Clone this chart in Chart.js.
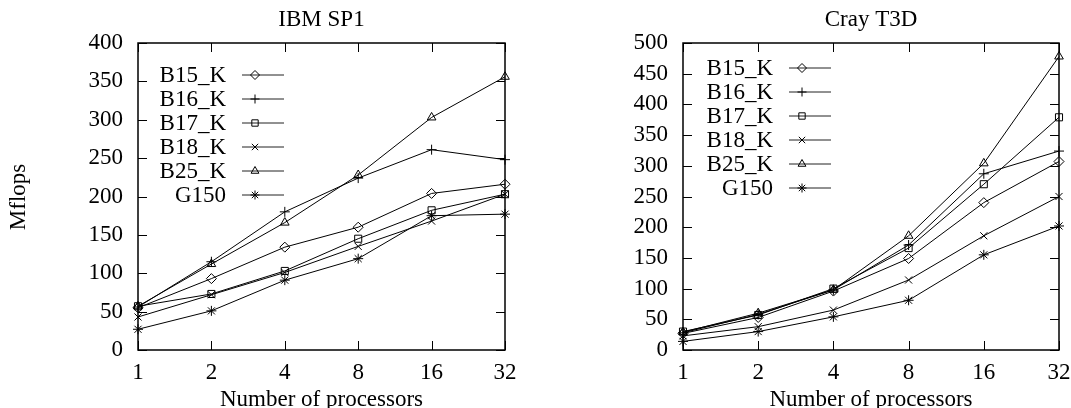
<!DOCTYPE html>
<html>
<head>
<meta charset="utf-8">
<script src="https://cdn.jsdelivr.net/npm/chart.js@4"></script>
<style>
  body { margin: 0; background: #fff; }
  canvas { position: absolute; top: 0; }
  #sp1 { left: 0; }
  #t3d { left: 536px; }
</style>
</head>
<body>
<canvas id="sp1" width="536" height="408"></canvas>
<canvas id="t3d" width="535" height="408"></canvas>
<script>
const procs = ['1', '2', '4', '8', '16', '32'];
const names = ['B15_K', 'B16_K', 'B17_K', 'B18_K', 'B25_K', 'G150'];
const markers = ['rectRot', 'cross', 'rect', 'crossRot', 'triangle', 'star'];

// IBM SP1
const sp1_B15 = [55, 93, 134, 160, 204, 216];
const sp1_B16 = [56, 115, 180, 224, 261, 248];
const sp1_B17 = [57, 73, 103, 145, 182, 203];
const sp1_B18 = [43, 72, 101, 135, 168, 203];
const sp1_B25 = [57, 112, 166, 228, 303, 356];
const sp1_G150 = [27, 51, 91, 119, 175, 177];

// Cray T3D
const t3d_B15 = [27, 53, 96, 149, 240, 307];
const t3d_B16 = [28, 58, 98, 171, 287, 324];
const t3d_B17 = [30, 57, 100, 166, 270, 379];
const t3d_B18 = [23, 38, 65, 114, 186, 250];
const t3d_B25 = [29, 60, 98, 186, 304, 478];
const t3d_G150 = [14, 30, 54, 81, 155, 202];

const FONT = '"Liberation Serif", "Times New Roman", serif';
const FS = 23;

// gnuplot-ish frame: box, inward ticks on all sides, legend inside, titles
const frame = {
    id: 'frame',
    afterDraw(chart, args, o) {
        const ctx = chart.ctx, a = chart.chartArea;
        const x = chart.scales.x, y = chart.scales.y;
        ctx.save();
        ctx.strokeStyle = '#000';
        ctx.lineWidth = 1;
        y.ticks.forEach(t => {
            const py = Math.round(y.getPixelForValue(t.value)) + 0.5;
            ctx.beginPath();
            ctx.moveTo(a.left, py); ctx.lineTo(a.left + 9, py);
            ctx.moveTo(a.right, py); ctx.lineTo(a.right - 9, py);
            ctx.stroke();
        });
        x.ticks.forEach((t, i) => {
            const px = Math.round(x.getPixelForTick(i)) + 0.5;
            ctx.beginPath();
            ctx.moveTo(px, a.bottom); ctx.lineTo(px, a.bottom - 9);
            ctx.moveTo(px, a.top); ctx.lineTo(px, a.top + 9);
            ctx.stroke();
        });
        ctx.lineWidth = 1.5;
        ctx.strokeRect(a.left, a.top, a.right - a.left, a.bottom - a.top);

        // legend
        ctx.font = FS + 'px ' + FONT;
        ctx.fillStyle = '#000';
        ctx.textAlign = 'right';
        ctx.textBaseline = 'middle';
        chart.data.datasets.forEach((ds, i) => {
            const ly = o.ly + i * 24;
            ctx.fillText(ds.label, o.lx, ly + 1);
            ctx.strokeStyle = '#222';
            ctx.lineWidth = 1;
            ctx.beginPath();
            ctx.moveTo(o.lx + 16, ly); ctx.lineTo(o.lx + 58, ly);
            ctx.stroke();
            ctx.strokeStyle = '#000';
            ctx.fillStyle = 'rgba(0,0,0,0)';
            Chart.helpers.drawPoint(ctx, {pointStyle: ds.pointStyle, radius: 4.5, borderWidth: 1, rotation: 0}, o.lx + 29, ly);
            ctx.fillStyle = '#000';
        });

        // titles
        ctx.textAlign = 'center';
        ctx.fillText(o.title, (a.left + a.right) / 2, 20);
        ctx.fillText('Number of processors', (a.left + a.right) / 2, 400);
        if (o.ylabel) {
            ctx.translate(19, 197);
            ctx.rotate(-Math.PI / 2);
            ctx.fillText(o.ylabel, 0, 0);
        }
        ctx.restore();
    }
};

function makeChart(id, rows, ymax, opts) {
    const datasets = rows.map((r, i) => ({
        label: names[i],
        data: r,
        borderColor: '#000',
        borderWidth: 1,
        backgroundColor: 'rgba(0,0,0,0)',
        pointStyle: markers[i],
        pointRadius: 5,
        pointBorderWidth: 1,
        pointBorderColor: '#000',
        pointBackgroundColor: 'rgba(0,0,0,0)',
        tension: 0
    }));
    return new Chart(document.getElementById(id), {
        type: 'line',
        data: {labels: procs, datasets: datasets},
        options: {
            responsive: false,
            animation: false,
            layout: {padding: {top: 43, right: opts.padRight, left: 0, bottom: 0}},
            plugins: {
                legend: {display: false},
                tooltip: {enabled: false},
                frame: opts
            },
            scales: {
                x: {
                    offset: false,
                    grid: {display: false, drawTicks: false},
                    border: {display: false},
                    ticks: {color: '#000', font: {family: FONT, size: FS}, padding: 9, maxRotation: 0},
                    afterFit(s) { s.height = 58; s.paddingLeft = 0; s.paddingRight = 0; }
                },
                y: {
                    min: 0,
                    max: ymax,
                    grid: {display: false, drawTicks: false},
                    border: {display: false},
                    ticks: {stepSize: 50, color: '#000', font: {family: FONT, size: FS}, padding: 15},
                    afterFit(s) { s.width = opts.yw; s.paddingTop = 0; s.paddingBottom = 0; }
                }
            }
        },
        plugins: [frame]
    });
}

makeChart('sp1', [sp1_B15, sp1_B16, sp1_B17, sp1_B18, sp1_B25, sp1_G150], 400,
    {title: 'IBM SP1', ylabel: 'Mflops', lx: 226, ly: 75, yw: 138, padRight: 31});
makeChart('t3d', [t3d_B15, t3d_B16, t3d_B17, t3d_B18, t3d_B25, t3d_G150], 500,
    {title: 'Cray T3D', ylabel: '', lx: 237, ly: 68, yw: 147, padRight: 12});
</script>
</body>
</html>
